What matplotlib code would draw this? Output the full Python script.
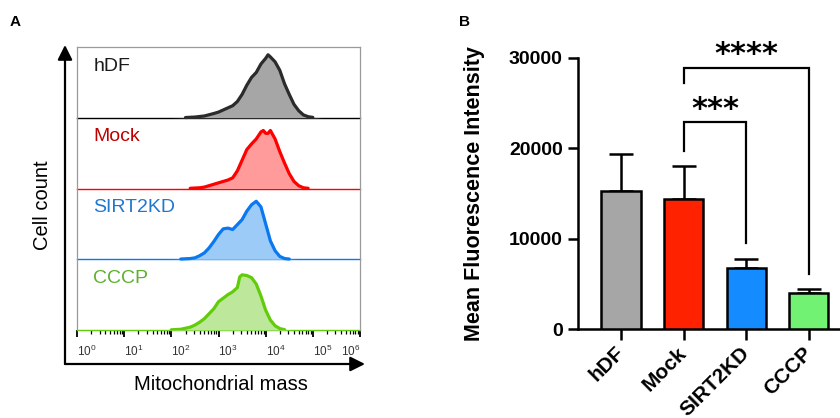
import matplotlib
matplotlib.use("Agg")
import matplotlib.pyplot as plt
from matplotlib.patches import FancyArrowPatch
import numpy as np

plt.rcParams['font.family'] = ['Liberation Sans', 'DejaVu Sans']
plt.rcParams['mathtext.fontset'] = 'custom'
plt.rcParams['mathtext.rm'] = 'Liberation Sans'
plt.rcParams['mathtext.it'] = 'Liberation Sans'
plt.rcParams['mathtext.bf'] = 'Liberation Sans:bold'

# ---------------- Panel A data (flow histograms, log10 intensity vs relative count)
hist_names = ['hDF', 'Mock', 'SIRT2KD', 'CCCP']
hdf_logx = [2.0, 2.3, 2.5, 2.7, 2.9, 3.0, 3.1, 3.2, 3.3, 3.4, 3.5, 3.6, 3.7, 3.8, 3.9,
            4.0, 4.05, 4.1, 4.2, 4.3, 4.4, 4.5, 4.6, 4.7, 4.8, 4.9, 5.0, 5.2]
hdf_h = [0, 0.003, 0.01, 0.025, 0.06, 0.08, 0.11, 0.14, 0.17, 0.23, 0.33, 0.46, 0.57, 0.64, 0.76,
         0.84, 0.89, 0.86, 0.79, 0.67, 0.48, 0.33, 0.19, 0.10, 0.04, 0.015, 0.005, 0]
mock_logx = [2.0, 2.4, 2.6, 2.7, 2.8, 2.9, 3.0, 3.1, 3.2, 3.3, 3.4, 3.5, 3.6, 3.7, 3.8,
             3.9, 3.95, 4.0, 4.05, 4.1, 4.2, 4.3, 4.4, 4.5, 4.6, 4.7, 4.8, 4.9, 5.2]
mock_h = [0, 0.003, 0.01, 0.02, 0.04, 0.06, 0.08, 0.10, 0.12, 0.15, 0.25, 0.40, 0.55, 0.63, 0.70,
          0.80, 0.82, 0.78, 0.78, 0.82, 0.70, 0.52, 0.36, 0.21, 0.10, 0.04, 0.01, 0.003, 0]
sirt_logx = [2.0, 2.2, 2.4, 2.5, 2.6, 2.7, 2.8, 2.9, 3.0, 3.1, 3.2, 3.3, 3.4, 3.5, 3.6,
             3.7, 3.8, 3.9, 4.0, 4.1, 4.2, 4.3, 4.4, 4.5, 4.7]
sirt_h = [0, 0.003, 0.01, 0.02, 0.05, 0.09, 0.16, 0.25, 0.35, 0.43, 0.44, 0.42, 0.49, 0.56, 0.68,
          0.77, 0.82, 0.74, 0.50, 0.26, 0.12, 0.04, 0.01, 0.003, 0]
cccp_logx = [1.8, 2.0, 2.2, 2.4, 2.5, 2.6, 2.7, 2.8, 2.9, 3.0, 3.1, 3.2, 3.3, 3.4, 3.45,
             3.5, 3.6, 3.7, 3.8, 3.9, 4.0, 4.1, 4.2, 4.3, 4.4, 4.6]
cccp_h = [0, 0.003, 0.01, 0.04, 0.07, 0.11, 0.16, 0.23, 0.30, 0.40, 0.45, 0.50, 0.54, 0.60, 0.75,
          0.78, 0.77, 0.74, 0.65, 0.48, 0.28, 0.14, 0.06, 0.02, 0.005, 0]
hist_x = [hdf_logx, mock_logx, sirt_logx, cccp_logx]
hist_h = [hdf_h, mock_h, sirt_h, cccp_h]
hist_fill = ['#a6a6a6', '#ff9b9b', '#9ccbf7', '#bde89c']
hist_line = ['#2b2b2b', '#ff0000', '#0a78f0', '#62cc0a']
hist_base = ['#000000', '#ff0000', '#0a78f0', '#62cc0a']
hist_text = ['#1a1a1a', '#c00000', '#1f78d0', '#5cb02e']
decade_ticks = [1, 10, 100, 1000, 10000, 100000, 1000000]
decade_labels = ['$10^{0}$', '$10^{1}$', '$10^{2}$', '$10^{3}$', '$10^{4}$', '$10^{5}$', '$10^{6}$']

# ---------------- Panel B data
groups = ['hDF', 'Mock', 'SIRT2KD', 'CCCP']
mfi_mean = [15300, 14400, 6700, 4000]
mfi_err = [4100, 3600, 1000, 400]
bar_colors = ['#a6a6a6', '#ff2200', '#148cff', '#72f272']
yticks_b = [0, 10000, 20000, 30000]
comparisons = [(1, 2, '***'), (1, 3, '****')]

W, H = 840, 418
fig = plt.figure(figsize=(W / 100, H / 100), dpi=100)

def fx(px):
    return px / W

def fy(py):
    return 1 - py / H

# ======== Panel A
axA = fig.add_axes([fx(77), fy(330), fx(360) - fx(77), fy(47) - fy(330)])
n = len(hist_names)
for i, name in enumerate(hist_names):
    base = n - 1 - i
    lx = np.array(hist_x[i])
    hh = np.array(hist_h[i])
    xs = 10 ** lx
    ys = base + hh
    axA.axhline(base, color=hist_base[i], lw=1.0, zorder=2, clip_on=False)
    axA.fill_between(xs, base, ys, color=hist_fill[i], lw=0, zorder=3)
    m = hh > 0
    axA.plot(xs[m], ys[m], color=hist_line[i], lw=2.3, zorder=4, solid_joinstyle='round',
             solid_capstyle='round')
    axA.text(0.057, base + 0.73, name, transform=axA.get_yaxis_transform(),
             fontsize=14, color=hist_text[i], ha='left', va='center')

axA.set_xscale('log')
axA.set_xlim(1, 1e6)
axA.set_ylim(0, n)
axA.set_yticks([])
for s in ['left', 'top', 'right']:
    axA.spines[s].set_color('#9a9a9a')
    axA.spines[s].set_linewidth(0.9)
axA.spines['bottom'].set_visible(False)
axA.set_xticks(decade_ticks)
axA.set_xticklabels(decade_labels)
axA.tick_params(axis='x', which='major', direction='out', length=5, width=1.3, color='k',
                labelsize=8.5, labelcolor='#333333', pad=5)
axA.tick_params(axis='x', which='minor', direction='out', length=3, width=0.9, color='k')
lbls = axA.get_xticklabels()
for j, lb in enumerate(lbls):
    if j == len(lbls) - 1:
        lb.set_ha('right')
    else:
        lb.set_ha('left')

# axis arrows
corner = (fx(65), fy(364))
fig.add_artist(FancyArrowPatch(corner, (fx(65), fy(45)), transform=fig.transFigure,
                               arrowstyle='-|>', mutation_scale=22, lw=1.6, color='k',
                               shrinkA=0, shrinkB=0))
fig.add_artist(FancyArrowPatch(corner, (fx(365), fy(364)), transform=fig.transFigure,
                               arrowstyle='-|>', mutation_scale=22, lw=1.6, color='k',
                               shrinkA=0, shrinkB=0))
fig.text(fx(42), fy(205), 'Cell count', rotation=90, fontsize=14.5, ha='center', va='center')
fig.text(fx(221), fy(384), 'Mitochondrial mass', fontsize=14.5, ha='center', va='center')
fig.text(fx(15), fy(22), 'A', fontsize=11, fontweight='bold', ha='center', va='center')
fig.text(fx(465), fy(22), 'B', fontsize=11, fontweight='bold', ha='center', va='center')

# ======== Panel B
axB = fig.add_axes([fx(578), fy(329), fx(840) - fx(578), fy(58) - fy(329)])
xpos = np.arange(len(groups))
axB.errorbar(xpos, mfi_mean, yerr=[[0] * len(groups), mfi_err], fmt='none', ecolor='k',
             elinewidth=1.8, capsize=8.5, capthick=1.8, zorder=2)
axB.bar(xpos, mfi_mean, width=0.63, color=bar_colors, edgecolor='k', linewidth=1.8, zorder=3)
axB.set_xlim(-0.69, 3.5)
axB.set_ylim(0, 30000)
axB.set_yticks(yticks_b)
axB.set_yticklabels([str(v) for v in yticks_b], fontweight='bold', fontsize=14)
axB.set_xticks(xpos)
axB.set_xticklabels(groups, fontweight='bold', fontsize=15, rotation=45, ha='right',
                    va='center', rotation_mode='anchor')
axB.tick_params(axis='y', length=7, width=1.8, pad=4)
axB.tick_params(axis='x', length=8, width=1.8, pad=7)
for s in ['top', 'right']:
    axB.spines[s].set_visible(False)
for s in ['left', 'bottom']:
    axB.spines[s].set_linewidth(1.8)
axB.set_ylabel('Mean Fluorescence Intensity', fontsize=15.5, fontweight='bold')
axB.yaxis.set_label_coords((485 - 578) / 262, 0.5)

# significance brackets
bracket_levels = [22900, 28900]
left_leg = [19700, 27200]
right_leg = [9500, 6100]
for k, (a, b, star) in enumerate(comparisons):
    yb = bracket_levels[k]
    axB.plot([a, a, b, b], [left_leg[k], yb, yb, right_leg[k]], color='k', lw=1.6,
             clip_on=False, zorder=4, solid_joinstyle='miter')
    axB.text((a + b) / 2, yb + 1450, star, ha='center', va='center', fontsize=22,
             fontweight='bold', family='DejaVu Sans', clip_on=False)

fig.savefig('out.png', dpi=100)
